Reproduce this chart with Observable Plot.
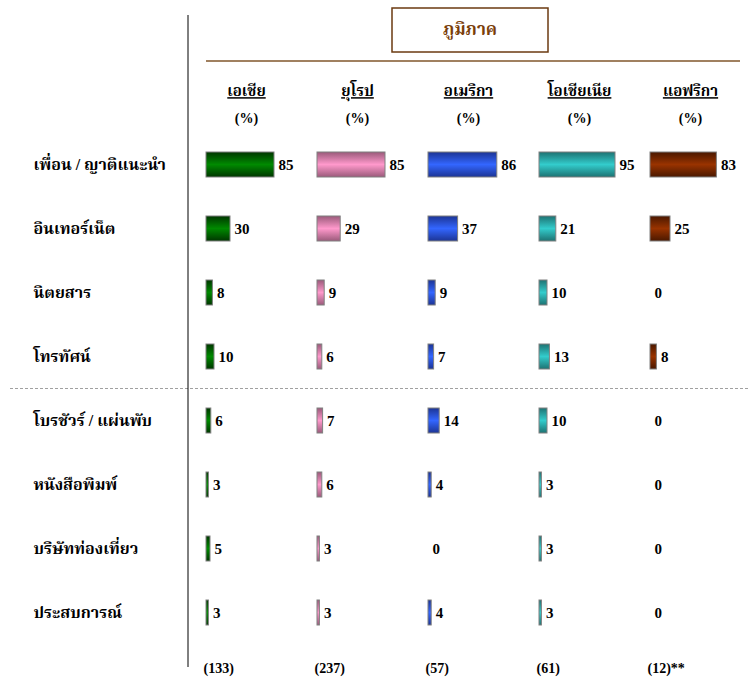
<!DOCTYPE html>
<html><head><meta charset="utf-8">
<script src="https://cdn.jsdelivr.net/npm/d3@7"></script>
<script src="https://cdn.jsdelivr.net/npm/@observablehq/plot@0.6"></script>
<style>body{margin:0;background:#fff}</style>
</head><body><div id="chart"></div>
<script>
const categories = ["เพื่อน / ญาติแนะนำ","อินเทอร์เน็ต","นิตยสาร","โทรทัศน์","โบรชัวร์ / แผ่นพับ","หนังสือพิมพ์","บริษัทท่องเที่ยว","ประสบการณ์"];
const regions = ["เอเชีย","ยุโรป","อเมริกา","โอเชียเนีย","แอฟริกา"];
const asia = [85,30,8,10,6,3,5,3];
const europe = [85,29,9,6,7,6,3,3];
const america = [86,37,9,7,14,4,0,4];
const oceania = [95,21,10,13,10,3,3,3];
const africa = [83,25,0,8,0,0,0,0];
const sampleSizes = ["(133)","(237)","(57)","(61)","(12)**"];
const headerTitle = "ภูมิภาค";
const unitLabel = "(%)";
const edgeColors = ["#003600","#9a5a7a","#1c3494","#1d7272","#4a1800"];
const midColors = ["#008a00","#ff99cc","#3366ff","#33cccc","#993300"];

const series = [asia, europe, america, oceania, africa];
const data = [];
regions.forEach((r, i) => series[i].forEach((v, j) => data.push({region: r, category: categories[j], value: v})));
const regionTable = regions.map((r, i) => ({region: r, n: sampleSizes[i]}));

const font = "'Liberation Serif','Noto Serif Thai','Times New Roman',serif";
const plot = Plot.plot({
  width: 748, height: 684,
  marginLeft: 205, marginRight: 17, marginTop: 132, marginBottom: 39,
  style: {fontFamily: font, fontWeight: "bold", background: "#fff", color: "#000", overflow: "visible"},
  fx: {domain: regions, paddingInner: 0.2825, paddingOuter: 0, axis: null},
  x: {domain: [0, 100], axis: null},
  y: {domain: categories, paddingInner: 0.61, paddingOuter: 0.305, axis: null},
  color: {type: "ordinal", domain: regions, range: regions.map((r, i) => `url(#grad${i})`)},
  marks: [
    Plot.barX(data.filter(d => d.value > 0), {fx: "region", y: "category", x: "value", fill: "region", stroke: "#808080", strokeWidth: 1}),
    Plot.text(data, {fx: "region", y: "category", x: "value", text: d => String(d.value), textAnchor: "start", dx: 4, fontSize: 15, fontWeight: "bold"}),
    Plot.text(categories, {fx: () => regions[0], y: d => d, text: d => d, frameAnchor: "left", textAnchor: "start", dx: -173, fontSize: 16, fontWeight: "bold"}),
    Plot.text(regionTable, {fx: "region", text: "region", frameAnchor: "top", dy: -47, fontSize: 15, fontWeight: "bold", ariaDescription: "region-names"}),
    Plot.text(regionTable, {fx: "region", text: () => unitLabel, frameAnchor: "top", dy: -19, fontSize: 14, fontWeight: "bold"}),
    Plot.text(regionTable, {fx: "region", text: "n", frameAnchor: "bottom-left", textAnchor: "start", dy: 27, dx: -3, fontSize: 14, fontWeight: "bold"})
  ]
});

const svg = d3.select(plot);
const defs = svg.insert("defs", ":first-child");
midColors.forEach((m, i) => {
  const g = defs.append("linearGradient").attr("id", `grad${i}`).attr("x1", 0).attr("y1", 0).attr("x2", 0).attr("y2", 1);
  g.append("stop").attr("offset", "0%").attr("stop-color", edgeColors[i]);
  g.append("stop").attr("offset", "50%").attr("stop-color", m);
  g.append("stop").attr("offset", "100%").attr("stop-color", edgeColors[i]);
});
svg.selectAll('[aria-description="region-names"] text').style("text-decoration", "underline");

const y = plot.scale("y");
const fx = plot.scale("fx");
const bw = y.bandwidth;
const yDash = (y.apply(categories[3]) + bw + y.apply(categories[4])) / 2;
svg.append("line").attr("x1", 10).attr("x2", 748).attr("y1", yDash).attr("y2", yDash)
  .attr("stroke", "#a0a0a0").attr("stroke-dasharray", "3,2");
svg.append("line").attr("x1", 188).attr("x2", 188).attr("y1", 15).attr("y2", 667).attr("stroke", "#000");
const left = fx.apply(regions[0]);
const right = fx.apply(regions[4]) + fx.bandwidth;
const cx = (left + right) / 2;
svg.append("line").attr("x1", left).attr("x2", 740).attr("y1", 61).attr("y2", 61).attr("stroke", "#a08060").attr("stroke-width", 2);
svg.append("rect").attr("x", cx - 76).attr("y", 8).attr("width", 156).attr("height", 44)
  .attr("fill", "#fff").attr("stroke", "#6b3a10").attr("stroke-width", 1.5);
svg.append("text").attr("x", cx + 2).attr("y", 31).attr("text-anchor", "middle").attr("dominant-baseline", "middle")
  .attr("fill", "#7a3e0a").attr("font-size", 17).attr("font-weight", "bold").text(headerTitle);

document.getElementById("chart").append(plot);
</script>
</body></html>
